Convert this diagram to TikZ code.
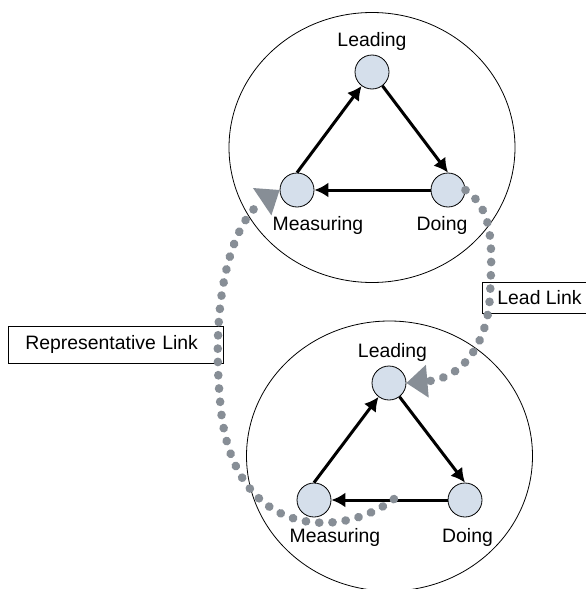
\documentclass[tikz,border=0pt]{standalone}
\usepackage{fontspec}
\setmainfont{Liberation Sans}
\usetikzlibrary{shapes.geometric,arrows.meta}
\definecolor{rolefill}{RGB}{213,223,235}
\definecolor{linkgray}{RGB}{135,142,150}
\begin{document}
\begin{tikzpicture}[x=1pt,y=-1pt,>={Latex[length=14pt,width=15pt]},
  font=\fontsize{19.4}{23}\selectfont,
  role/.style={draw, line width=0.8pt, circle, fill=rolefill, minimum size=34pt, inner sep=0pt},
  circ/.style={draw, line width=0.8pt, ellipse, minimum width=286pt, minimum height=270pt, inner sep=0pt},
  linkbox/.style={draw, line width=0.8pt, rectangle, inner xsep=15pt, minimum height=31pt},
  flow/.style={line width=3pt},
  linkdots/.style={linkgray, line width=8.5pt, line cap=round, dash pattern=on 0.3pt off 13pt,
    -{Triangle[length=21pt,width=33pt,line width=0pt]}}]
\useasboundingbox (0,0) rectangle (586,589);

% top circle
\node(topC)[circ] at (372,147.5) {};
\node(tL)[role] at (372,72) {};
\node(tM)[role] at (297,190) {};
\node(tD)[role] at (448,190) {};
\node(tLtxt) at (372,41) {Leading};
\node(tMtxt) at (318,225) {Measuring};
\node(tDtxt) at (442,225) {Doing};

\draw[flow] (tM.north) edge[->] (tL);
\draw[flow] (tL) edge[->] (tD.north);
\draw[flow] (tD.west) edge[->] (tM.east);

% bottom circle
\node(botC)[circ] at (389.5,456) {};
\node(bL)[role] at (389,383) {};
\node(bM)[role] at (314,500) {};
\node(bD)[role] at (465,500) {};
\node(bLtxt) at (392.5,352) {Leading};
\node(bMtxt) at (335,537) {Measuring};
\node(bDtxt) at (467.5,537) {Doing};

\draw[flow] (bM.north) edge[->] (bL);
\draw[flow] (bL) edge[->] (bD.north);
\draw[flow] (bD.west) edge[->] (bM.east);

% links
\node(repBox)[linkbox, anchor=west, inner xsep=17pt, text width=181pt, align=left,
  minimum height=37pt] at (8,344.5) {Representative Link};
\node(leadBox)[linkbox, anchor=west] at (482,297.5) {Lead Link};

\coordinate(repStart) at (394,499);
\draw[linkdots] (repStart) .. controls (340,540) and (230,540) .. (220,400)
  .. controls (210,290) and (235,220) .. (tM.west);
\draw[linkdots] (tD.east) .. controls (495,210) and (492,250) .. (490,295)
  .. controls (488,340) and (465,378) .. (bL.east);
\end{tikzpicture}
\end{document}
